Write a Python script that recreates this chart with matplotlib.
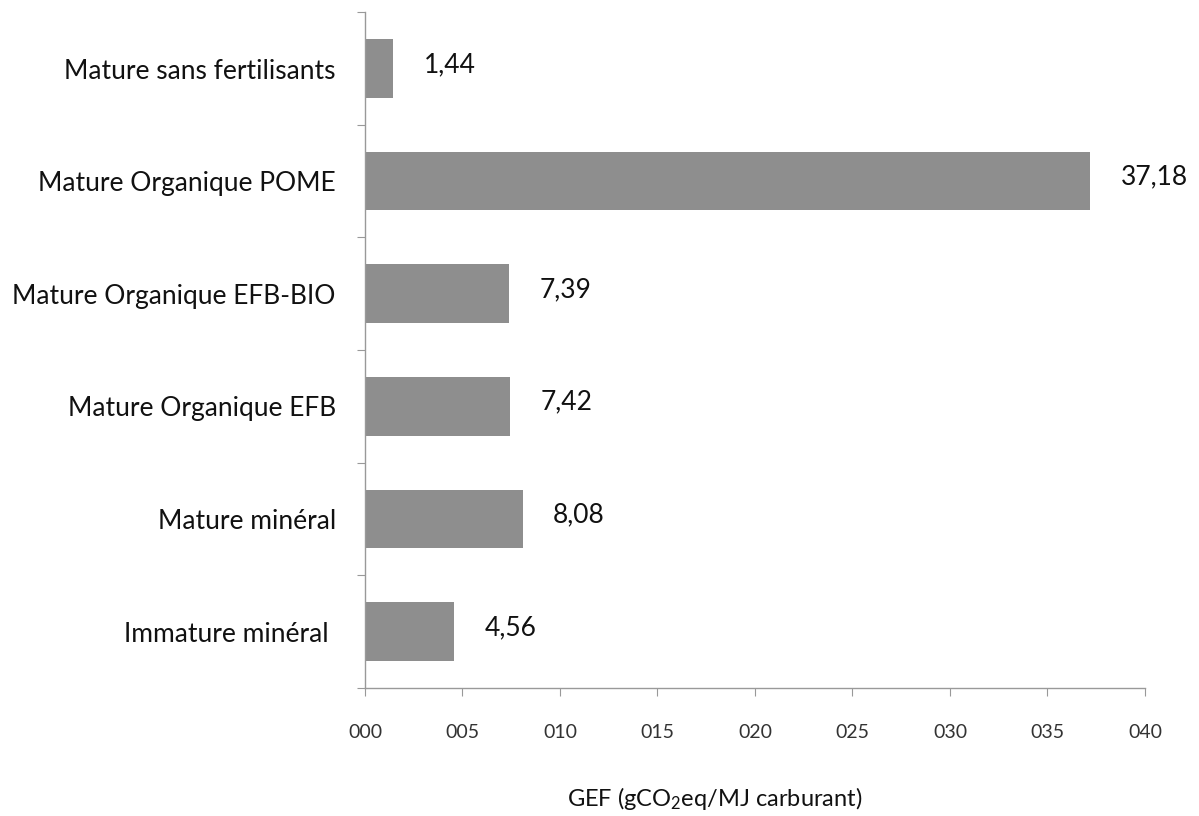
import numpy as np
import matplotlib
matplotlib.use('Agg')
import matplotlib.pyplot as plt

# =============================================================================
#                                   Data
# =============================================================================

categories = ['Immature minéral ', 'Mature minéral', 'Mature Organique EFB',
              'Mature Organique EFB-BIO', 'Mature Organique POME',
              'Mature sans fertilisants']
values = [4.56, 8.08, 7.42, 7.39, 37.18, 1.44]
value_labels = ['4,56', '8,08', '7,42', '7,39', '37,18', '1,44']

x_ticks = [0, 5, 10, 15, 20, 25, 30, 35, 40]
x_tick_labels = ['000', '005', '010', '015', '020', '025', '030', '035', '040']

# =============================================================================
#                                   Plot
# =============================================================================

plt.rcParams['font.family'] = ['Lato', 'DejaVu Sans']
plt.rcParams['mathtext.fontset'] = 'custom'
plt.rcParams['mathtext.rm'] = 'Lato'
plt.rcParams['mathtext.it'] = 'Lato:italic'

fig = plt.figure(figsize=(11.99, 8.16), dpi=100)
ax = fig.add_axes([0.3044, 0.157, 0.6505, 0.828])

aY = np.arange(len(categories))
ax.barh(aY, values, height=0.52, color='#8e8e8e')

for y, v, s in zip(aY, values, value_labels):
    ax.annotate(s, (v, y), xytext=(22, 3), textcoords='offset points',
                ha='left', va='center', fontsize=19, color='#111111')

ax.set_xlim(0, 40)
ax.set_ylim(-0.5, len(categories) - 0.5)
ax.set_xticks(x_ticks)
ax.set_xticklabels(x_tick_labels, fontsize=14, color='#333333')
ax.set_yticks(np.arange(-0.5, len(categories), 1.0))
ax.set_yticklabels([])
ax.set_yticks(aY, minor=True)
ax.set_yticklabels(categories, minor=True, fontsize=19, color='#111111')
ax.tick_params(axis='y', which='minor', length=0, pad=21)
ax.tick_params(axis='y', which='major', length=6, color='#999999', direction='out')
ax.tick_params(axis='x', length=6, color='#999999', direction='out', pad=20)

for side in ['top', 'right']:
    ax.spines[side].set_visible(False)
for side in ['left', 'bottom']:
    ax.spines[side].set_color('#999999')
    ax.spines[side].set_linewidth(1.0)

ax.set_xlabel(r'GEF (gCO$_2$eq/MJ carburant)', fontsize=17, color='#111111')
ax.xaxis.set_label_coords(0.449, -0.143)

fig.savefig('out.png', dpi=100)
